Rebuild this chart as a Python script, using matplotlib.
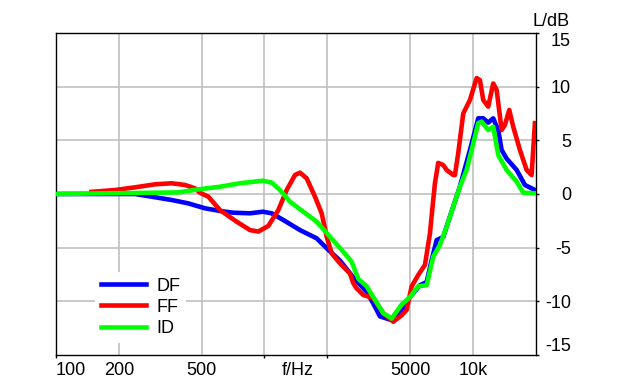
import matplotlib
matplotlib.use("Agg")
import matplotlib.pyplot as plt

plt.rcParams["font.family"] = ["Liberation Sans", "DejaVu Sans"]

# DF curve (Hz, dB)
df_freq = [100, 240, 298, 359, 430, 518, 612, 706, 852, 983, 1083, 1231, 1480,
           1780, 2023, 2302, 2700, 3092, 3325, 3581, 3999, 4466, 4986, 5568,
           5998, 6338, 6696, 7203, 7755, 8660, 9674, 10602, 11204, 11837,
           12513, 13221, 13727, 14507, 16201, 17757, 19829]
df_level = [0, 0, -0.3, -0.56, -0.87, -1.33, -1.58, -1.74, -1.8, -1.65, -1.8,
            -2.42, -3.36, -4.13, -5.2, -6.2, -7.9, -9.1, -10.2, -11.4, -11.7,
            -11.1, -9.6, -8.5, -8.2, -6.15, -4.3, -4.0, -2.1, 0.7, 4.1, 7.05,
            7.05, 6.65, 7.05, 5.96, 4.1, 3.3, 2.24, 0.84, 0.37]

# FF curve
ff_freq = [148, 192, 239, 298, 359, 416, 464, 490, 538, 612, 736, 852, 934,
           1043, 1165, 1278, 1401, 1480, 1594, 1747, 1881, 1988, 2101, 2302,
           2570, 2666, 2768, 2978, 3325, 3714, 4147, 4550, 4808, 5082, 5465,
           5887, 6220, 6449, 6571, 6815, 7203, 7478, 8043, 8196, 8500, 8984,
           9674, 10416, 10803, 11204, 11837, 12513, 12991, 13727, 14237,
           14930, 15605, 16803, 18090, 19116, 19829]
ff_level = [0.2, 0.37, 0.62, 0.9, 1.0, 0.84, 0.53, 0.12, -0.25, -1.5, -2.58,
            -3.36, -3.5, -2.98, -1.5, 0.37, 1.77, 1.99, 1.46, -0.25, -1.8,
            -3.98, -5.53, -6.46, -7.4, -8.3, -8.8, -9.4, -9.7, -11.1, -11.9,
            -11.3, -10.8, -8.6, -7.55, -6.6, -3.66, -0.56, 1.0, 2.9, 2.7, 2.24,
            1.77, 1.77, 3.8, 7.5, 8.76, 10.8, 10.6, 8.76, 8.14, 10.3, 9.7,
            5.96, 6.43, 7.83, 6.27, 4.1, 2.24, 1.77, 6.6]

# ID curve
id_freq = [100, 386, 481, 612, 763, 983, 1083, 1187, 1326, 1535, 1780, 2061,
           2387, 2619, 2818, 3092, 3325, 3714, 4075, 4550, 4986, 5465, 5998,
           6449, 6944, 7478, 8043, 8660, 9328, 10033, 10602, 11007, 11837,
           12513, 13221, 14507, 16201, 17425, 19829]
id_level = [0, 0.15, 0.43, 0.68, 1.0, 1.24, 1.06, 0.37, -0.72, -1.65, -2.58,
            -3.98, -5.38, -6.3, -7.9, -8.6, -9.6, -11.1, -11.6, -10.3, -9.6,
            -8.6, -8.5, -5.84, -4.75, -3.05, -1.18, 0.68, 2.24, 4.7, 6.6, 6.74,
            5.96, 6.27, 3.63, 2.24, 1.15, 0.12, 0.06]

x_ticks = [100, 200, 500, 1000, 1450, 2000, 5000, 10000]
x_labels = ["100", "200", "500", "", "f/Hz", "", "5000", "10k"]
y_ticks = [-15, -10, -5, 0, 5, 10, 15]

fig = plt.figure(figsize=(6.18, 3.92), dpi=100)
ax = fig.add_axes([56 / 618, 1 - 355 / 392, (535.7 - 56) / 618, (355 - 33) / 392])

ax.plot(df_freq, df_level, color="#0000ff", lw=3.3, label="DF", zorder=3)
ax.plot(ff_freq, ff_level, color="#ff0000", lw=3.3, label="FF", zorder=4)
ax.plot(id_freq, id_level, color="#00ff00", lw=3.3, label="ID", zorder=5)

ax.set_xscale("log")
ax.set_xlim(100, 20000)
ax.set_ylim(-15, 15)
ax.minorticks_off()

ax.set_xticks(x_ticks)
ax.set_xticklabels(x_labels, fontsize=13)
ax.set_yticks(y_ticks)
ax.set_yticklabels([str(v) for v in y_ticks], fontsize=13)

ax.yaxis.tick_right()
ax.tick_params(axis="y", length=2.2, width=1, pad=23.3, colors="black")
ax.tick_params(axis="x", length=2.2, width=1, pad=2.5, colors="black")

ax.grid(True, color="#c0c0c0", lw=1.2)
ax.set_axisbelow(True)

for t, v in zip(ax.xaxis.get_major_ticks(), x_ticks):
    if v in (200, 500, 1450, 5000, 10000):
        t.tick1line.set_visible(False)
    if v in (100, 1450):
        t.gridline.set_visible(False)
for t, v in zip(ax.yaxis.get_major_ticks(), y_ticks):
    if v in (-15, 15):
        t.gridline.set_visible(False)

ax.get_xticklabels()[0].set_ha("left")
for lab in ax.get_yticklabels():
    lab.set_ha("right")
ylabs = ax.get_yticklabels()
ylabs[0].set_va("bottom")
ylabs[-1].set_va("top")

for s in ax.spines.values():
    s.set_linewidth(1.0)
    s.set_color("black")

leg = ax.legend(loc="upper left", bbox_to_anchor=(0.0813, 0.259),
                borderaxespad=0, frameon=True, fancybox=False, framealpha=1,
                edgecolor="none", facecolor="white", fontsize=13,
                handlelength=2.5, handletextpad=0.55, labelspacing=0.23,
                borderpad=0.33)
leg.set_zorder(6)

fig.text(551 / 618, 1 - 22 / 392, "L/dB", fontsize=13, ha="center", va="center")

fig.savefig("out.png", dpi=100)
